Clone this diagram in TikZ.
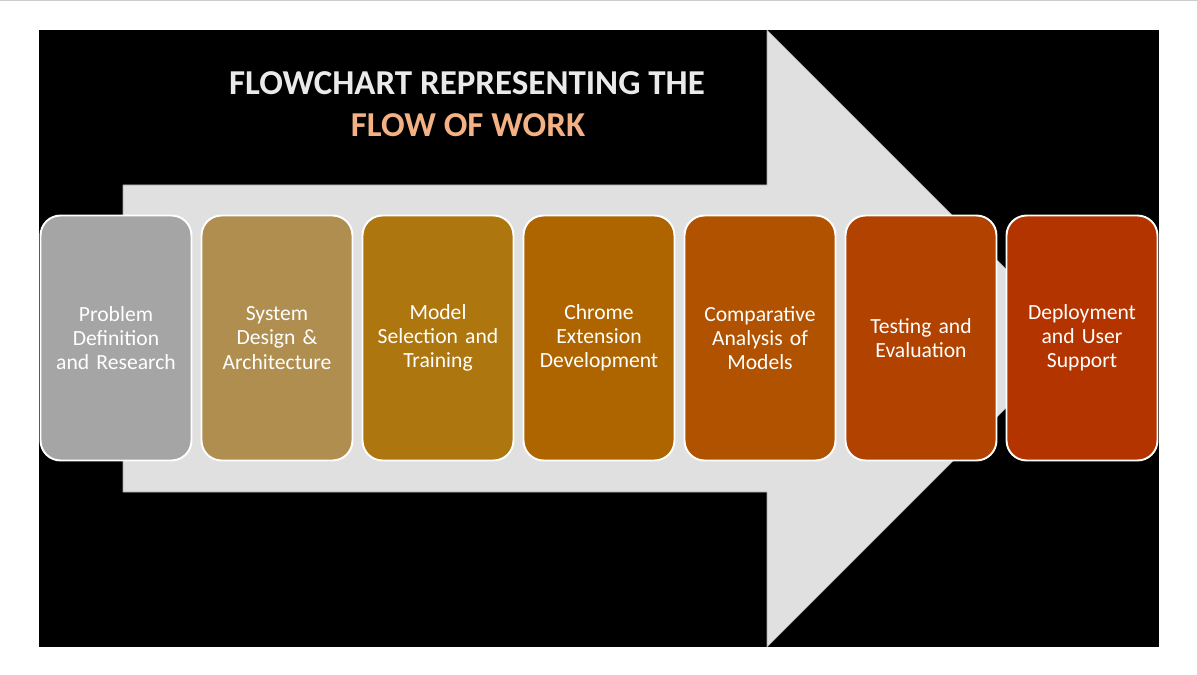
\documentclass[tikz,border=0pt]{standalone}
\usepackage{fontspec}
\setmainfont{Carlito}
\definecolor{nenxam}{HTML}{E0E0E0}
\definecolor{tieude}{HTML}{EAEAEA}
\definecolor{cam}{HTML}{F4B183}
\definecolor{mau1}{RGB}{165,165,165}
\definecolor{mau2}{RGB}{176,142,80}
\definecolor{mau3}{RGB}{173,118,14}
\definecolor{mau4}{RGB}{174,101,0}
\definecolor{mau5}{RGB}{176,82,0}
\definecolor{mau6}{RGB}{177,66,0}
\definecolor{mau7}{RGB}{180,52,0}
\begin{document}
\begin{tikzpicture}[x=0.02cm, y=-0.02cm, line join=round, line cap=round,
	hop/.style={draw=white, line width=1.1pt, rounded corners=0.4cm, minimum width=3.02cm, minimum height=4.9cm, text width=2.9cm, align=center, text=white, inner sep=0pt, font=\fontsize{12.3}{13.7}\selectfont}]
	\def\xmin{0} \def\xmax{1197} % Khung
	\def\ymin{0} \def\ymax{675}
	\useasboundingbox (\xmin,\ymin) rectangle (\xmax,\ymax);
	\fill[white] (\xmin,\ymin) rectangle (\xmax,\ymax);
	\draw[gray!40, line width=0.8pt] (\xmin,0.5)--(\xmax,0.5);
	\fill[black] (39,30) rectangle (1159,647);
	% Mũi tên
	\filldraw[fill=nenxam, draw=gray!70, line width=0.3pt] (123,185)--(767,185)--(767,30)--(1075.5,338.5)--(767,647)--(767,492)--(123,492)--cycle;
	% Tiêu đề
	\node[anchor=base, text=tieude, font=\fontsize{19.9}{24}\selectfont\bfseries] (dong1) at (467,95) {FLOWCHART REPRESENTING THE};
	\node[anchor=base, text=cam, font=\fontsize{19.9}{24}\selectfont\bfseries] (dong2) at (468,137) {FLOW OF WORK};
	% Các bước
	\node[hop, fill=mau1] (b1) at (116,338) {Problem\\Definition\\and Research};
	\node[hop, fill=mau2] (b2) at (277,338) {System\\Design \&\\Architecture};
	\node[hop, fill=mau3] (b3) at (438,338) {Model\\Selection and\\Training};
	\node[hop, fill=mau4] (b4) at (599,338) {Chrome\\Extension\\Development};
	\node[hop, fill=mau5] (b5) at (760,338) {Comparative\\Analysis of\\Models};
	\node[hop, fill=mau6] (b6) at (921,338) {Testing and\\Evaluation};
	\node[hop, fill=mau7] (b7) at (1082,338) {Deployment\\and User\\Support};
\end{tikzpicture}
\end{document}
